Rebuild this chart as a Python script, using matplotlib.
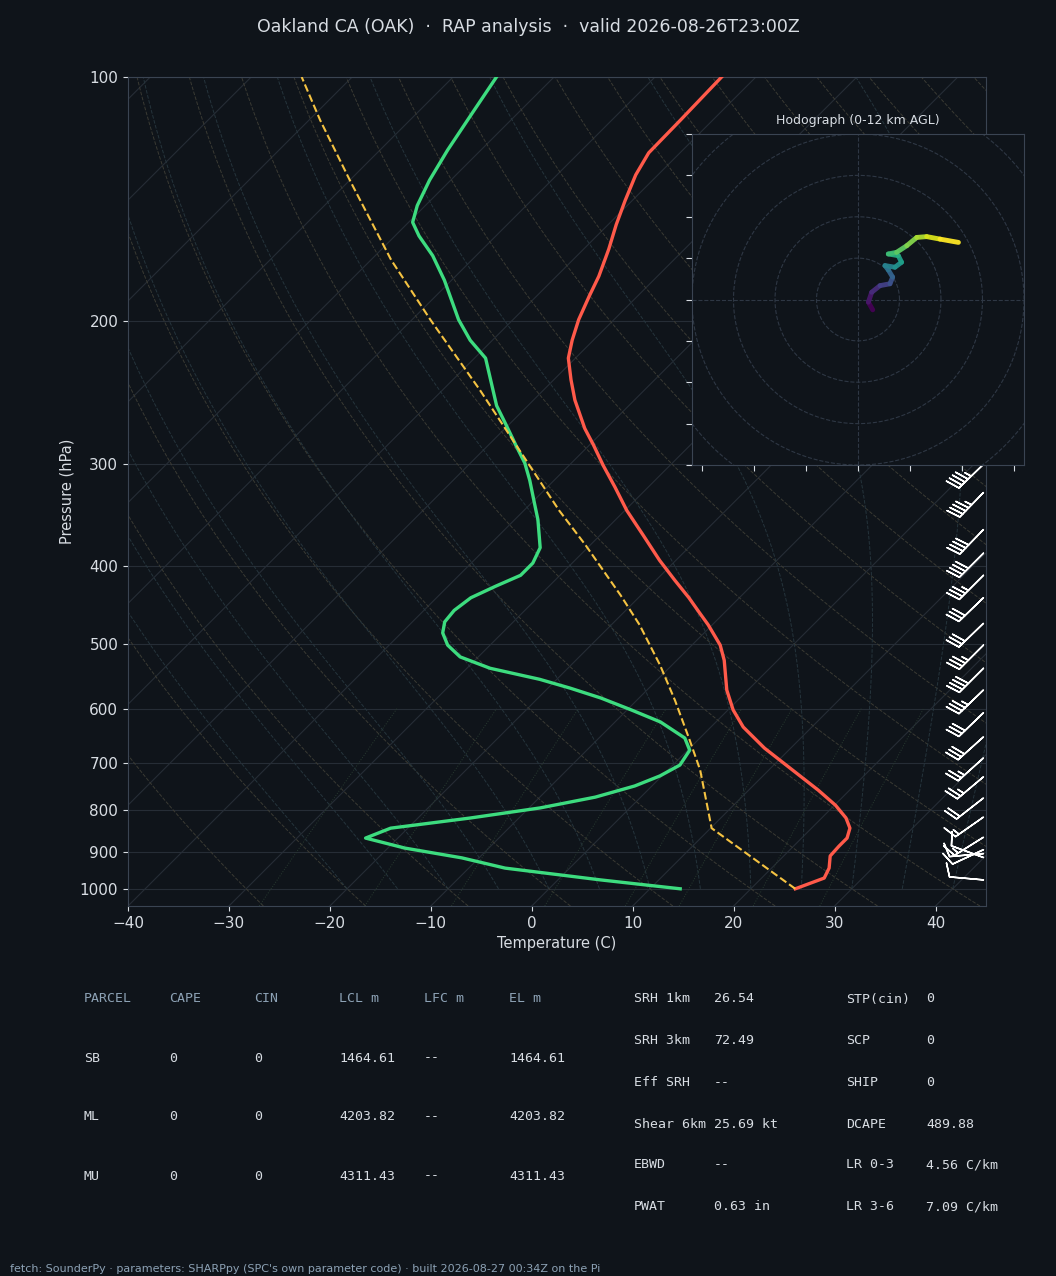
import numpy as np
import matplotlib
matplotlib.use("Agg")
import matplotlib.pyplot as plt
import matplotlib.transforms as mtransforms
from matplotlib.collections import LineCollection

# ── Sounding data (pressure hPa, temperature C) ─────────────
temp_p = [1000, 970, 943, 911, 886, 866, 842, 818, 789, 756, 710, 671, 632, 602,
          569, 523, 501, 473, 456, 438, 417, 394, 367, 342, 320, 301, 284, 271,
          250, 236, 222, 211, 199, 186, 176, 163, 152, 142, 132, 124, 113, 100]
temp_t = [24.4, 26.2, 25.7, 24.6, 24.5, 24.5, 23.8, 22.4, 20.1, 16.9, 11.9, 7.4,
          3.2, 0.5, -2.1, -5.3, -7.2, -10.4, -12.6, -15.0, -18.1, -21.6, -25.7,
          -29.8, -33.3, -36.6, -39.6, -42.1, -45.9, -48.3, -50.7, -52.1, -53.5,
          -54.8, -55.8, -57.5, -59.2, -60.7, -62.2, -63.1, -63.2, -63.4]

dew_p = [1000, 975, 943, 916, 891, 866, 842, 818, 795, 771, 747, 726, 704, 675,
         652, 623, 602, 582, 566, 552, 535, 518, 501, 484, 469, 454, 438, 424,
         411, 397, 380, 351, 334, 314, 299, 284, 268, 254, 222, 211, 199, 178,
         166, 157, 151, 144, 134, 123, 111, 100]
dew_t = [13.0, 4.2, -6.4, -11.7, -18.3, -23.2, -21.7, -14.8, -8.9, -4.5, -1.7,
         -0.2, 0.7, 0.2, -1.5, -5.5, -9.6, -13.8, -17.8, -21.7, -27.7, -31.8,
         -34.2, -35.9, -36.8, -37.0, -36.6, -35.3, -33.9, -33.9, -34.7, -37.7,
         -39.8, -42.4, -44.6, -47.3, -50.3, -53.1, -58.9, -62.2, -65.4, -70.7,
         -74.3, -77.6, -79.6, -80.8, -82.1, -83.3, -84.5, -85.7]

parcel_p = [1000, 842, 714, 656, 586, 530, 473, 435, 377, 342, 301, 243, 199,
            168, 134, 113, 100]
parcel_t = [24.4, 10.1, 3.2, -0.8, -6.2, -11.2, -17.2, -22.0, -30.5, -36.5,
            -43.9, -56.3, -68.2, -78.0, -90.0, -98.9, -105.0]

# wind barbs: pressure, direction (deg from), speed (kt)
wind_p = [975, 915, 905, 895, 864, 816, 773, 728, 690, 650, 607, 569, 535, 501,
          471, 438, 411, 386, 361, 325, 300, 250, 200, 150]
wind_dir = [275, 290, 265, 245, 238, 235, 232, 230, 228, 228, 226, 226, 225,
            225, 226, 226, 225, 225, 224, 224, 226, 230, 235, 240]
wind_spd = [10, 10, 10, 10, 15, 15, 20, 25, 25, 30, 30, 35, 40, 35, 30, 30, 35,
            40, 40, 45, 45, 50, 55, 50]

# hodograph trace u, v (kt), surface -> 12 km
hodo_u = [7.1, 5.0, 6.6, 10.6, 15.4, 16.7, 14.6, 13.0, 17.8, 21.0, 19.4, 14.6,
          18.6, 23.5, 28.3, 33.1, 39.5, 48.4]
hodo_v = [-5.0, -1.3, 3.5, 6.7, 7.6, 10.8, 14.3, 16.4, 15.6, 18.0, 21.2, 22.0,
          22.8, 26.0, 30.0, 30.4, 29.2, 27.6]

table_head = ["PARCEL", "CAPE", "CIN", "LCL m", "LFC m", "EL m"]
table_rows = [["SB", "0", "0", "1464.61", "--", "1464.61"],
              ["ML", "0", "0", "4203.82", "--", "4203.82"],
              ["MU", "0", "0", "4311.43", "--", "4311.43"]]
idx_mid = [("SRH 1km", "26.54"), ("SRH 3km", "72.49"), ("Eff SRH", "--"),
           ("Shear 6km", "25.69 kt"), ("EBWD", "--"), ("PWAT", "0.63 in")]
idx_right = [("STP(cin)", "0"), ("SCP", "0"), ("SHIP", "0"), ("DCAPE", "489.88"),
             ("LR 0-3", "4.56 C/km"), ("LR 3-6", "7.09 C/km")]

# ── Style ───────────────────────────────────────────────────
BG = "#0f141a"
EDGE = "#3a4452"
TXT = "#d8dde3"
MUTED = "#8da2b5"
K = 80.5
P0 = 1050.0


def skew(t, p):
    return np.asarray(t) + K * np.log10(P0 / np.asarray(p, dtype=float))


fig = plt.figure(figsize=(10.56, 12.76), dpi=100, facecolor=BG)
ax = fig.add_axes([128/1056, 1-906/1276, 858/1056, 829/1276])
ax.set_facecolor(BG)
ax.set_yscale("log")
ax.set_ylim(1050, 100)
ax.set_xlim(-40, 45)

pp = np.logspace(np.log10(1050), 2, 120)

# isobars and isotherms
for p in range(100, 1001, 100):
    ax.axhline(p, color="#262d36", lw=0.8, zorder=1)
for t in range(-160, 60, 10):
    ax.plot(skew(np.full_like(pp, t), pp), pp, color="#262d36", lw=0.8, zorder=1)

# dry adiabats
for th in range(-30, 220, 10):
    tt = (th + 273.15) * (pp / 1000.0) ** 0.2857 - 273.15
    ax.plot(skew(tt, pp), pp, color="#3a3a33", lw=0.7, ls="--", zorder=1)

# moist adiabats (simple integration)
def es(t):
    return 6.112 * np.exp(17.67 * t / (t + 243.5))

for t0 in range(-20, 45, 5):
    ts = [t0]
    pl = [1000.0]
    p, t = 1000.0, float(t0)
    while p > 100:
        tk = t + 273.15
        rs = 0.622 * es(t) / (p - es(t))
        g = (0.2857 * tk + 2.5e6 * rs / 1004.0) / (1 + 2.5e6 ** 2 * rs * 0.622 / (1004.0 * 287.0 * tk ** 2)) / p
        dp = -5.0
        t += g * dp
        p += dp
        ts.append(t)
        pl.append(p)
    ax.plot(skew(ts, pl), pl, color="#25343c", lw=0.7, ls="--", zorder=1)

# mixing ratio lines
pm = np.linspace(1050, 600, 30)
for w in [0.4, 1, 2, 4, 7, 10, 16, 24]:
    e = pm * w / 1000.0 / (0.622 + w / 1000.0)
    td = 243.5 * np.log(e / 6.112) / (17.67 - np.log(e / 6.112))
    ax.plot(skew(td, pm), pm, color="#283a30", lw=0.7, ls=":", zorder=1)

# profiles
ax.plot(skew(temp_t, temp_p), temp_p, color="#ff5a4a", lw=2.4, zorder=5)
ax.plot(skew(dew_t, dew_p), dew_p, color="#3ddc7f", lw=2.4, zorder=5)
ax.plot(skew(parcel_t, parcel_p), parcel_p, color="#f5c342", lw=1.5, ls="--", zorder=5)

# wind barbs along right edge
wd = np.radians(wind_dir)
ws = np.array(wind_spd, dtype=float)
bu = -ws * np.sin(wd)
bv = -ws * np.cos(wd)
trans = mtransforms.blended_transform_factory(ax.transAxes, ax.transData)
ax.barbs(np.full(len(wind_p), 0.997), wind_p, bu, bv, transform=trans,
         color="white", length=7, linewidth=1.1, zorder=6, clip_on=False)

ax.set_yticks([100, 200, 300, 400, 500, 600, 700, 800, 900, 1000])
ax.set_yticklabels(["100", "200", "300", "400", "500", "600", "700", "800", "900", "1000"])
ax.yaxis.set_minor_locator(matplotlib.ticker.NullLocator())
ax.set_xticks(range(-40, 41, 10))
ax.tick_params(colors=TXT, labelsize=11, color=TXT)
for s in ax.spines.values():
    s.set_color(EDGE)
ax.set_xlabel("Temperature (C)", color=TXT, fontsize=10.5)
ax.set_ylabel("Pressure (hPa)", color=TXT, fontsize=10.5)

# ── Hodograph ───────────────────────────────────────────────
hx = fig.add_axes([692/1056, 1-465/1276, 332/1056, 331/1276])
hx.set_facecolor(BG)
hx.set_xlim(-80, 80)
hx.set_ylim(-80, 80)
ang = np.linspace(0, 2*np.pi, 200)
for r in [20, 40, 60, 80, 100]:
    hx.plot(r*np.cos(ang), r*np.sin(ang), color="#2e3744", lw=0.8, ls="--")
hx.axhline(0, color="#2e3744", lw=0.8, ls="--")
hx.axvline(0, color="#2e3744", lw=0.8, ls="--")
pts = np.column_stack([hodo_u, hodo_v]).reshape(-1, 1, 2)
segs = np.concatenate([pts[:-1], pts[1:]], axis=1)
lc = LineCollection(segs, cmap="viridis", linewidths=3.5, capstyle="round", alpha=0.95)
lc.set_array(np.arange(len(segs)))
hx.add_collection(lc)
hx.set_xticks(range(-75, 76, 25))
hx.set_yticks(range(-80, 81, 20))
hx.set_xticklabels([])
hx.set_yticklabels([])
hx.tick_params(colors=TXT, color=TXT, length=4)
for s in hx.spines.values():
    s.set_color(EDGE)
hx.set_title("Hodograph (0-12 km AGL)", color=TXT, fontsize=9, pad=7)

# ── Text ────────────────────────────────────────────────────
fig.text(0.5, 1-27/1276, "Oakland CA (OAK)  ·  RAP analysis  ·  valid 2026-08-26T23:00Z",
         ha="center", va="center", color=TXT, fontsize=12.5)

mono = "DejaVu Sans Mono"
col_x = [84, 169, 254, 339, 424, 509]
row_y = [999, 1058, 1117, 1176]
for cx, h in zip(col_x, table_head):
    fig.text(cx/1056, 1-row_y[0]/1276, h, family=mono, fontsize=9.5, color=MUTED, va="center")
for ry, row in zip(row_y[1:], table_rows):
    for cx, v in zip(col_x, row):
        fig.text(cx/1056, 1-ry/1276, v, family=mono, fontsize=9.5, color=TXT, va="center")

idx_y = [999, 1041, 1083, 1124, 1165, 1207]
for ry, (a, b) in zip(idx_y, idx_mid):
    fig.text(634/1056, 1-ry/1276, a, family=mono, fontsize=9.5, color=TXT, va="center")
    fig.text(714/1056, 1-ry/1276, b, family=mono, fontsize=9.5, color=TXT, va="center")
for ry, (a, b) in zip(idx_y, idx_right):
    fig.text(846/1056, 1-ry/1276, a, family=mono, fontsize=9.5, color=TXT, va="center")
    fig.text(926/1056, 1-ry/1276, b, family=mono, fontsize=9.5, color=TXT, va="center")

fig.text(10/1056, 1-1269/1276,
         "fetch: SounderPy · parameters: SHARPpy (SPC's own parameter code) · built 2026-08-27 00:34Z on the Pi",
         color=MUTED, fontsize=8, va="center")

fig.savefig("out.png", dpi=100, facecolor=BG)
